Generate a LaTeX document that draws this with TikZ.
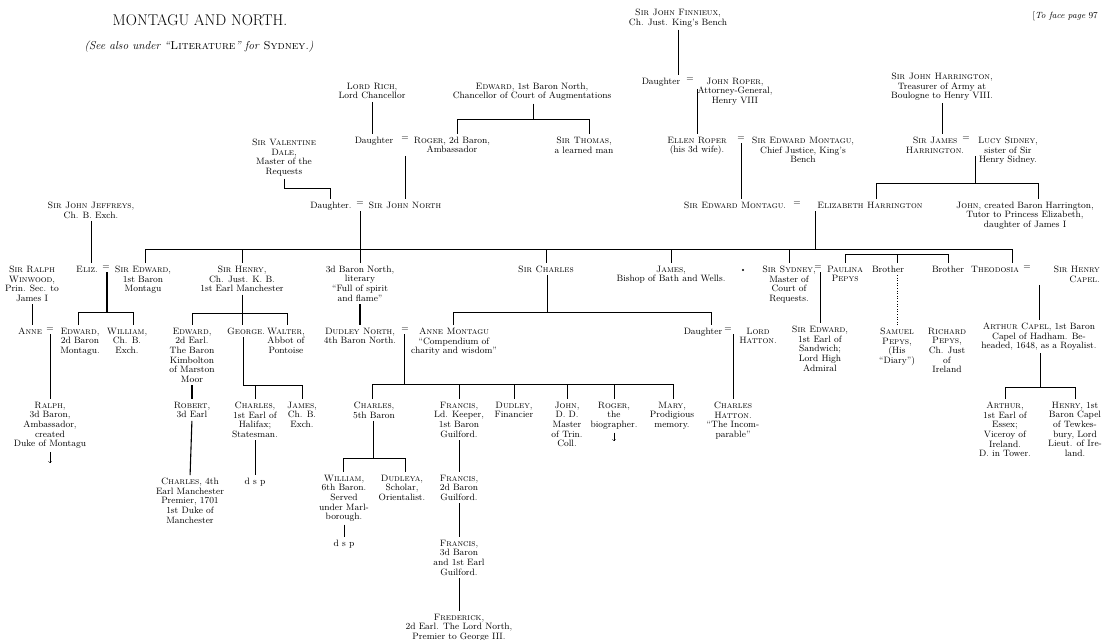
\documentclass[tikz,border=0pt]{standalone}
\usepackage{fontspec}
\usepackage{tikz}
\newcommand\fs{\fontsize{9.2}{9.7}\selectfont}
\begin{document}
\begin{tikzpicture}[x=1pt,y=-1pt,
		pn/.style={font=\fs, align=center, inner sep=0pt, anchor=north, yshift=3.3pt},
		lnk/.style={line width=0.6pt, shorten <=2.5pt, shorten >=2.5pt},
		stem/.style={line width=0.6pt, shorten <=2.5pt},
		drop/.style={line width=0.6pt, shorten >=2.5pt},
		fat/.style={line width=1.1pt}]
			\useasboundingbox (0,0) rectangle (1104,640);
			\node[pn, font=\fontsize{15.5}{15.5}\selectfont\addfontfeature{LetterSpace=8}] (title) at (200,18) {MONTAGU AND NORTH.};
			\node[pn, font=\fontsize{11.5}{11.5}\selectfont] (seealso) at (199,44) {\itshape (See also under ``\textup{\textsc{Literature}}'' for \textup{\textsc{Sydney}}.)};
			\node[pn, anchor=north east, font=\fontsize{9}{9}\selectfont] (facing) at (1098,15) {[\textit{To face page} 97};
			\node[pn] (finnieux) at (678,12) {\textsc{Sir John Finnieux},\\Ch. Just. King's Bench};
			\node[pn] (lordrich) at (372,86) {\textsc{Lord Rich},\\Lord Chancellor};
			\node[pn] (northI) at (532,86) {\textsc{Edward}, 1st Baron North,\\Chancellor of Court of Augmentations};
			\node[pn] (dauF) at (661,81) {Daughter};
			\node[pn] (eqF) at (690,81) {=};
			\node[pn] (roper) at (735,81) {\textsc{John Roper},\\Attorney-General,\\Henry VIII};
			\node[pn] (harrington) at (942,76) {\textsc{Sir John Harrington},\\Treasurer of Army at\\Boulogne to Henry VIII.};
			\node[pn] (dale) at (284,142) {\textsc{Sir Valentine}\\\textsc{Dale},\\Master of the\\Requests};
			\node[pn] (dauR) at (374,140) {Daughter};
			\node[pn] (eqR) at (405,140) {=};
			\node[pn] (roger) at (452,140) {\textsc{Roger}, 2d Baron,\\Ambassador};
			\node[pn] (thomas) at (584,140) {\textsc{Sir Thomas},\\a learned man};
			\node[pn] (ellen) at (697,140) {\textsc{Ellen Roper}\\(his 3d wife).};
			\node[pn] (eqE) at (741,140) {=};
			\node[pn] (edwardCJ) at (803,140) {\textsc{Sir Edward Montagu},\\Chief Justice, King's\\Bench};
			\node[pn] (james) at (935,140) {\textsc{Sir James}\\\textsc{Harrington}.};
			\node[pn] (eqJ) at (966,140) {=};
			\node[pn] (lucy) at (1008,140) {\textsc{Lucy Sidney},\\sister of Sir\\Henry Sidney.};
			\node[pn] (jeffreys) at (91,205) {\textsc{Sir John Jeffreys},\\Ch. B. Exch.};
			\node[pn] (dauN) at (331,205) {Daughter.};
			\node[pn] (eqN) at (360,205) {=};
			\node[pn] (johnnorth) at (405,205) {\textsc{Sir John North}};
			\node[pn] (edwardM) at (735,205) {\textsc{Sir Edward Montagu}.};
			\node[pn] (eqM) at (797,205) {=};
			\node[pn] (elizabeth) at (870,205) {\textsc{Elizabeth Harrington}};
			\node[pn] (johnH) at (1025,205) {\textsc{John}, created Baron Harrington,\\Tutor to Princess Elizabeth,\\daughter of James I};
			\node[pn] (winwood) at (32,269) {\textsc{Sir Ralph}\\\textsc{Winwood},\\Prin. Sec. to\\James I};
			\node[pn] (eliz) at (87,269) {\textsc{Eliz}.};
			\node[pn] (eqEl) at (106,269) {=};
			\node[pn] (edward1) at (143,269) {\textsc{Sir Edward},\\1st Baron\\Montagu};
			\node[pn] (henry) at (242,269) {\textsc{Sir Henry},\\Ch. Just. K. B.\\1st Earl Manchester};
			\node[pn] (baron3) at (360,269) {3d Baron North,\\literary\\``Full of spirit\\and flame''};
			\node[pn] (charles) at (546,269) {\textsc{Sir Charles}};
			\node[pn] (jamesB) at (671,269) {\textsc{James},\\Bishop of Bath and Wells.};
			\node[pn] (sydney) at (789,269) {\textsc{Sir Sydney},\\Master of\\Court of\\Requests.};
			\node[pn] (eqS) at (818,269) {=};
			\node[pn] (paulina) at (845,269) {\textsc{Paulina}\\\textsc{Pepys}};
			\node[pn] (brotherA) at (888,269) {Brother};
			\node[pn] (brotherB) at (948,269) {Brother};
			\node[pn] (theodosia) at (995,269) {\textsc{Theodosia}};
			\node[pn] (eqT) at (1027,269) {=};
			\node[pn, anchor=north east, align=right] (capel) at (1100,269) {\textsc{Sir Henry}\\\textsc{Capel}.};
			\node[pn] (anne) at (30,331) {\textsc{Anne}};
			\node[pn] (eqA) at (50,331) {=};
			\node[pn] (edward2) at (80,331) {\textsc{Edward},\\2d Baron\\Montagu.};
			\node[pn] (william) at (127,331) {\textsc{William},\\Ch. B.\\Exch.};
			\node[pn] (edwardE) at (192,331) {\textsc{Edward},\\2d Earl.\\The Baron\\Kimbolton\\of Marston\\Moor};
			\node[pn] (george) at (246,331) {\textsc{George}.};
			\node[pn] (walter) at (286,331) {\textsc{Walter},\\Abbot of\\Pontoise};
			\node[pn] (dudley) at (360,331) {\textsc{Dudley North},\\4th Baron North.};
			\node[pn] (eqD) at (405,331) {=};
			\node[pn] (anneM) at (454,331) {\textsc{Anne Montagu}\\``Compendium of\\charity and wisdom''};
			\node[pn] (dauH) at (703,331) {Daughter};
			\node[pn] (eqH) at (728,331) {=};
			\node[pn] (hatton) at (758,331) {\textsc{Lord}\\\textsc{Hatton}.};
			\node[pn] (sandwich) at (820,329) {\textsc{Sir Edward},\\1st Earl of\\Sandwich;\\Lord High\\Admiral};
			\node[pn] (samuel) at (897,331) {\textsc{Samuel}\\\textsc{Pepys},\\(His\\``Diary'')};
			\node[pn] (richard) at (947,331) {\textsc{Richard}\\\textsc{Pepys},\\Ch. Just\\of\\Ireland};
			\node[pn] (arthurC) at (1039,326) {\textsc{Arthur Capel}, 1st Baron\\Capel of Hadham. Be-\\headed, 1648, as a Royalist.};
			\node[pn] (ralph) at (50,405) {\textsc{Ralph},\\3d Baron,\\Ambassador,\\created\\Duke of Montagu};
			\node[pn] (robert) at (192,405) {\textsc{Robert},\\3d Earl};
			\node[pn] (halifax) at (255,405) {\textsc{Charles},\\1st Earl of\\Halifax;\\Statesman.};
			\node[pn] (jamesE) at (302,405) {\textsc{James},\\Ch. B.\\Exch.};
			\node[pn] (charles5) at (374,405) {\textsc{Charles},\\5th Baron};
			\node[pn] (francis1) at (459,405) {\textsc{Francis},\\Ld. Keeper,\\1st Baron\\Guilford.};
			\node[pn] (dudleyF) at (514,405) {\textsc{Dudley},\\Financier};
			\node[pn] (johnDD) at (567,405) {\textsc{John},\\D. D.\\Master\\of Trin.\\Coll.};
			\node[pn] (rogerB) at (614,405) {\textsc{Roger},\\the\\biographer.};
			\node[pn] (mary) at (672,405) {\textsc{Mary},\\Prodigious\\memory.};
			\node[pn] (chatton) at (733,405) {\textsc{Charles}\\\textsc{Hatton}.\\``The Incom-\\parable''};
			\node[pn] (arthur) at (1005,405) {\textsc{Arthur},\\1st Earl of\\Essex;\\Viceroy of\\Ireland.\\D. in Tower.};
			\node[pn] (henryC) at (1075,405) {\textsc{Henry}, 1st\\Baron Capel\\of Tewkes-\\bury, Lord\\Lieut. of Ire-\\land.};
			\node[pn] (charles4) at (190,481) {\textsc{Charles}, 4th\\Earl Manchester\\Premier, 1701\\1st Duke of\\Manchester};
			\node[pn] (dspA) at (255,481) {d s p};
			\node[pn] (william6) at (344,478) {\textsc{William},\\6th Baron.\\Served\\under Marl-\\borough.};
			\node[pn] (dudleya) at (402,478) {\textsc{Dudleya},\\Scholar,\\Orientalist.};
			\node[pn] (francis2) at (459,478) {\textsc{Francis},\\2d Baron\\Guilford.};
			\node[pn] (dspB) at (344,543) {d s p};
			\node[pn] (francis3) at (459,543) {\textsc{Francis},\\3d Baron\\and 1st Earl\\Guilford.};
			\node[pn] (frederick) at (459,617) {\textsc{Frederick},\\2d Earl. The Lord North,\\Premier to George III.};
			\coordinate (nb) at (533,119);
			\coordinate (nbL) at (457,119);
			\coordinate (nbR) at (589,119);
			\coordinate (db) at (330,188);
			\coordinate (hb) at (975,183);
			\coordinate (hL) at (876,183);
			\coordinate (hR) at (1038,183);
			\coordinate (mb) at (815,249);
			\coordinate (mL) at (145,249);
			\coordinate (mR) at (1012,249);
			\coordinate (eb) at (107,312);
			\coordinate (ebL) at (78,312);
			\coordinate (ebR) at (133,312);
			\coordinate (sb) at (242,313);
			\coordinate (sbL) at (192,313);
			\coordinate (sbR) at (287,313);
			\coordinate (gb) at (243,385);
			\coordinate (gbR) at (302,385);
			\coordinate (cb) at (547,312);
			\coordinate (cbL) at (453,312);
			\coordinate (cbR) at (711,312);
			\coordinate (pb) at (845,254);
			\coordinate (pbR) at (948,254);
			\coordinate (kb) at (404,384);
			\coordinate (kbL) at (372,384);
			\coordinate (kbR) at (673,384);
			\coordinate (wb) at (373,458);
			\coordinate (wbL) at (343,458);
			\coordinate (wbR) at (405,458);
			\coordinate (ab) at (1040,387);
			\coordinate (abL) at (1005,387);
			\coordinate (abR) at (1075,387);
			\coordinate (ralphEnd) at (50,463);
			\coordinate (rogerEnd) at (614,441);
			\draw[lnk] (finnieux.south) -- (finnieux.south |- dauF.north);
			\draw[lnk] (ellen.north |- dauF.south) -- (ellen.north);
			\draw[lnk] (lordrich.south) -- (lordrich.south |- dauR.north);
			\draw[stem] (nb |- northI.south) -- (nb);
			\draw[lnk] (nbL |- roger.north) -- (nbL) -- (nbR) -- (nbR |- thomas.north);
			\draw[lnk] (johnnorth.north |- roger.south) -- (johnnorth.north);
			\draw[lnk] (dale.south) -- (dale.south |- db) -- (db) -- (db |- dauN.north);
			\draw[lnk] (eqE.south) -- (eqE.south |- edwardM.north);
			\draw[lnk] (harrington.south) -- (harrington.south |- james.north);
			\draw[stem] (hb |- james.south) -- (hb);
			\draw[lnk] (hL |- elizabeth.north) -- (hL) -- (hR) -- (hR |- johnH.north);
			\draw[lnk] (jeffreys.south) -- (jeffreys.south |- eliz.north);
			\draw[lnk] (baron3.north |- johnnorth.south) -- (baron3.north);
			\draw[stem] (mb |- elizabeth.south) -- (mb);
			\draw[lnk] (mL |- edward1.north) -- (mL) -- (mR) -- (mR |- theodosia.north);
			\foreach \n in {henry,charles,jamesB,sydney}
				\draw[drop] (\n.north |- mb) -- (\n.north);
			\draw[lnk] (winwood.south) -- (winwood.south |- anne.north);
			\draw[stem, fat] (eb |- eqEl.south) -- (eb);
			\draw[lnk] (ebL |- edward2.north) -- (ebL) -- (ebR) -- (ebR |- william.north);
			\draw[lnk] (ralph.north |- eqA.south) -- (ralph.north);
			\draw[->, shorten <=3pt] (ralph.south) -- (ralphEnd);
			\draw[stem] (henry.south) -- (sb);
			\draw[lnk] (sbL |- edwardE.north) -- (sbL) -- (sbR) -- (sbR |- walter.north);
			\draw[drop] (sb) -- (sb |- george.north);
			\draw[lnk, fat] (edwardE.south) -- (robert.north);
			\draw[lnk, fat] (robert.south) -- (charles4.north);
			\draw[lnk] (gb |- george.south) -- (gb) -- (gbR) -- (gbR |- jamesE.north);
			\draw[drop] (halifax.north |- gb) -- (halifax.north);
			\draw[lnk] (halifax.south) -- (halifax.south |- dspA.north);
			\draw[lnk, fat] (baron3.south) -- (baron3.south |- dudley.north);
			\draw[stem] (cb |- charles.south) -- (cb);
			\draw[lnk] (cbL |- anneM.north) -- (cbL) -- (cbR) -- (cbR |- dauH.north);
			\draw[stem] (kb |- eqD.south) -- (kb);
			\draw[lnk] (kbL |- charles5.north) -- (kbL) -- (kbR) -- (kbR |- mary.north);
			\foreach \n in {francis1,dudleyF,johnDD,rogerB}
				\draw[drop] (\n.north |- kb) -- (\n.north);
			\draw[stem] (wb |- charles5.south) -- (wb);
			\draw[lnk] (wbL |- william6.north) -- (wbL) -- (wbR) -- (wbR |- dudleya.north);
			\draw[lnk] (william6.south) -- (william6.south |- dspB.north);
			\draw[lnk] (francis1.south) -- (francis2.north);
			\draw[lnk] (francis2.south) -- (francis3.north);
			\draw[lnk] (francis3.south) -- (frederick.north);
			\draw[->, shorten <=3pt] (rogerB.south) -- (rogerEnd);
			\draw[lnk] (chatton.north |- eqH.south) -- (chatton.north);
			\draw[lnk] (sandwich.north |- eqS.south) -- (sandwich.north);
			\draw[lnk] (pb |- paulina.north) -- (pb) -- (pbR) -- (pbR |- brotherB.north);
			\draw[drop] (samuel.north |- pb) -- (samuel.north |- brotherA.north);
			\draw[lnk, dotted] (samuel.north |- brotherA.south) -- (samuel.north);
			\draw[lnk] (arthurC.north |- capel.south) -- (arthurC.north);
			\draw[stem] (ab |- arthurC.south) -- (ab);
			\draw[lnk] (abL |- arthur.north) -- (abL) -- (abR) -- (abR |- henryC.north);
			\fill (743,270) circle (1.1);
\end{tikzpicture}
\end{document}
